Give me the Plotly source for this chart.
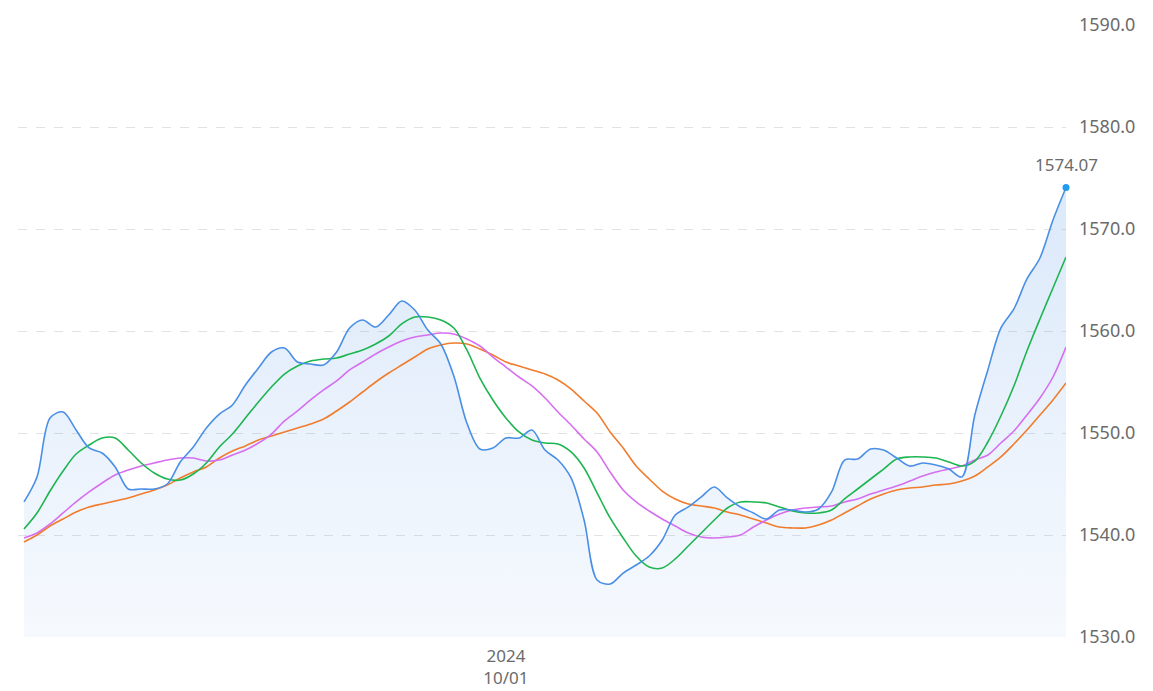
import plotly.graph_objects as go
import pandas as pd

# ---- data ----
dates = pd.bdate_range("2024-08-09", periods=81).strftime("%Y-%m-%d").tolist()

price = [1543.24, 1545.69, 1551.47, 1552.06, 1550.29, 1548.53, 1548.04, 1546.67, 1544.51, 1544.51,
         1544.51, 1545.00, 1547.16, 1548.63, 1550.49, 1551.86, 1552.75, 1554.71, 1556.37, 1557.94,
         1558.33, 1556.96, 1556.76, 1556.67, 1557.94, 1560.29, 1561.08, 1560.39, 1561.57, 1562.94,
         1562.06, 1560.10, 1558.73, 1555.59, 1550.98, 1548.43, 1548.53, 1549.51, 1549.51, 1550.29,
         1548.33, 1547.35, 1545.59, 1541.47, 1535.59, 1535.20, 1536.27, 1537.06, 1537.94, 1539.51,
         1541.96, 1542.75, 1543.73, 1544.71, 1543.63, 1542.75, 1542.16, 1541.57, 1542.45, 1542.45,
         1542.25, 1542.55, 1544.22, 1547.35, 1547.45, 1548.43, 1548.33, 1547.55, 1546.76, 1547.06,
         1546.86, 1546.47, 1545.69, 1551.76, 1556.18, 1560.29, 1562.16, 1565.10, 1567.16, 1570.88,
         1574.07]

ma_green = [1540.59, 1542.16, 1544.31, 1546.27, 1547.94, 1548.82, 1549.51, 1549.51, 1548.33, 1547.06,
            1546.08, 1545.49, 1545.39, 1545.98, 1547.06, 1548.63, 1549.90, 1551.47, 1553.04, 1554.51,
            1555.78, 1556.57, 1557.06, 1557.25, 1557.35, 1557.75, 1558.14, 1558.73, 1559.51, 1560.69,
            1561.37, 1561.37, 1561.08, 1560.29, 1558.14, 1555.39, 1553.24, 1551.47, 1550.10, 1549.31,
            1549.02, 1548.92, 1548.14, 1546.57, 1544.12, 1541.67, 1539.71, 1537.94, 1536.86, 1536.76,
            1537.65, 1538.92, 1540.20, 1541.47, 1542.65, 1543.24, 1543.24, 1543.14, 1542.75, 1542.35,
            1542.16, 1542.16, 1542.45, 1543.53, 1544.51, 1545.49, 1546.47, 1547.45, 1547.65, 1547.65,
            1547.55, 1547.16, 1546.76, 1547.25, 1549.12, 1551.67, 1554.61, 1558.04, 1561.18, 1564.22,
            1567.25]

ma_violet = [1539.71, 1540.20, 1541.08, 1542.16, 1543.24, 1544.22, 1545.10, 1545.88, 1546.37, 1546.76,
             1547.06, 1547.35, 1547.55, 1547.55, 1547.25, 1547.35, 1547.84, 1548.33, 1549.02, 1549.90,
             1551.18, 1552.16, 1553.24, 1554.22, 1555.10, 1556.18, 1556.96, 1557.75, 1558.43, 1559.02,
             1559.41, 1559.61, 1559.80, 1559.71, 1559.22, 1558.53, 1557.45, 1556.47, 1555.49, 1554.61,
             1553.43, 1552.06, 1550.78, 1549.41, 1548.14, 1546.18, 1544.41, 1543.24, 1542.35, 1541.57,
             1540.88, 1540.20, 1539.80, 1539.71, 1539.80, 1540.00, 1540.78, 1541.47, 1542.06, 1542.45,
             1542.65, 1542.75, 1542.84, 1543.24, 1543.53, 1544.02, 1544.41, 1544.80, 1545.29, 1545.78,
             1546.18, 1546.47, 1546.76, 1547.35, 1547.84, 1549.02, 1550.20, 1551.76, 1553.43, 1555.49,
             1558.43]

ma_orange = [1539.31, 1540.00, 1540.88, 1541.57, 1542.25, 1542.75, 1543.04, 1543.33, 1543.63, 1544.02,
             1544.41, 1544.90, 1545.59, 1546.18, 1546.67, 1547.55, 1548.24, 1548.73, 1549.31, 1549.71,
             1550.10, 1550.49, 1550.88, 1551.37, 1552.16, 1553.04, 1554.02, 1555.00, 1555.88, 1556.67,
             1557.45, 1558.24, 1558.63, 1558.82, 1558.73, 1558.24, 1557.65, 1556.96, 1556.57, 1556.18,
             1555.78, 1555.20, 1554.31, 1553.14, 1551.96, 1550.10, 1548.53, 1546.76, 1545.49, 1544.31,
             1543.53, 1543.04, 1542.84, 1542.65, 1542.25, 1541.96, 1541.57, 1541.18, 1540.78, 1540.69,
             1540.69, 1540.98, 1541.47, 1542.16, 1542.84, 1543.53, 1544.02, 1544.41, 1544.61, 1544.71,
             1544.90, 1545.00, 1545.29, 1545.78, 1546.67, 1547.65, 1548.92, 1550.29, 1551.76, 1553.24,
             1554.90]

y_ticks = [1530, 1540, 1550, 1560, 1570, 1580, 1590]
x_tick_vals = ["2024-10-01"]
x_tick_text = ["2024<br>10/01"]

BLUE = "#4a8fe6"
GREEN = "#1eb550"
VIOLET = "#d56ff0"
ORANGE = "#f07c2c"
GRAY = "#6b6b6b"
FONT = "Noto Sans"

fig = go.Figure()

# filled area under price
fig.add_trace(go.Scatter(
    x=dates, y=price, mode="lines", line=dict(width=0, shape="spline", smoothing=0.9),
    fill="tozeroy",
    fillgradient=dict(type="vertical", start=1530, stop=1575,
                      colorscale=[[0, "rgba(74,143,230,0.05)"], [1, "rgba(74,143,230,0.20)"]]),
    hoverinfo="skip", showlegend=False))

for vals, col in [(ma_orange, ORANGE), (ma_violet, VIOLET), (ma_green, GREEN)]:
    fig.add_trace(go.Scatter(x=dates, y=vals, mode="lines",
                             line=dict(color=col, width=1.6, shape="spline", smoothing=0.9),
                             showlegend=False))

fig.add_trace(go.Scatter(x=dates, y=price, mode="lines",
                         line=dict(color=BLUE, width=1.6, shape="spline", smoothing=0.9),
                         showlegend=False))

fig.add_trace(go.Scatter(x=[dates[-1]], y=[price[-1]], mode="markers",
                         marker=dict(color="#1f9bf0", size=7), cliponaxis=False, showlegend=False))

fig.add_annotation(x=dates[-1], y=price[-1], text=f"{price[-1]:.2f}", showarrow=False,
                   yshift=23, font=dict(family=FONT, size=17, color=GRAY))

fig.update_layout(
    width=1145, height=683,
    margin=dict(l=10, r=87, t=17, b=54),
    paper_bgcolor="white", plot_bgcolor="white",
    font=dict(family=FONT, size=16, color=GRAY),
    xaxis=dict(type="category", range=[-0.46, 80], showgrid=False, zeroline=False,
               showline=False, ticks="", tickvals=x_tick_vals, ticktext=x_tick_text,
               automargin=False,
               ticklabelstandoff=7, tickfont=dict(family=FONT, size=17, color=GRAY)),
    yaxis=dict(side="right", range=[1530, 1590], tickvals=y_ticks, tickformat=".1f",
               showgrid=True, gridcolor="#e2e2e2", griddash="dash", gridwidth=1,
               zeroline=False, showline=False, ticks="", ticklabelstandoff=12,
               automargin=False,
               tickfont=dict(family=FONT, size=18, color=GRAY)),
    hovermode=False,
)

fig.write_html("out.html")
